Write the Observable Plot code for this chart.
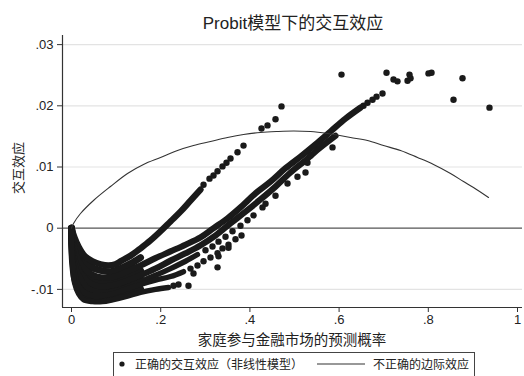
<!DOCTYPE html>
<html>
<head>
<meta charset="utf-8">
<script src="https://cdn.jsdelivr.net/npm/d3@7"></script>
<script src="https://cdn.jsdelivr.net/npm/@observablehq/plot@0.6"></script>
<style>
  html, body { margin: 0; padding: 0; background: #fff; }
  #chart svg { display: block; }
</style>
</head>
<body>
<div id="chart"></div>
<script>
// ---- Data ----
const titleText = "Probit模型下的交互效应";
const xLabel = "家庭参与金融市场的预测概率";
const yLabel = "交互效应";
const legendLabels = ["正确的交互效应（非线性模型）", "不正确的边际效应"];
const xTicks = [0, 0.2, 0.4, 0.6, 0.8, 1];
const yTicks = [-0.01, 0, 0.01, 0.02, 0.03];

// dense groups of the correct interaction effect (many overlapping points)
const bandA = [[0,0],[0.0067,-0.0015],[0.0157,-0.0030],[0.0291,-0.0045],[0.0471,-0.0054],[0.065,-0.0059],[0.083,-0.0061],[0.0987,-0.0059],[0.1099,-0.0054],[0.1323,-0.0045],[0.1547,-0.0033],[0.1771,-0.0020],[0.1996,-0.0005],[0.222,0.0011],[0.2444,0.0027],[0.2668,0.0045],[0.2892,0.0063]];
const bandB = [[0,0],[0.0045,-0.0025],[0.0112,-0.0045],[0.0224,-0.0061],[0.0381,-0.0072],[0.0561,-0.0079],[0.0762,-0.0081],[0.0987,-0.0079],[0.1211,-0.0072],[0.1547,-0.0061],[0.1883,-0.0049],[0.222,-0.0038],[0.2556,-0.0027],[0.2892,-0.0015],[0.3184,0.0000],[0.3498,0.0016],[0.3789,0.0034],[0.4126,0.0057],[0.4462,0.0076],[0.4798,0.0098],[0.5135,0.0117],[0.5471,0.0137],[0.5807,0.0158],[0.6143,0.0179],[0.648,0.0197]];
const bandC = [[0,0],[0.0022,-0.0033],[0.009,-0.0056],[0.0202,-0.0074],[0.0359,-0.0087],[0.0538,-0.0094],[0.0762,-0.0095],[0.0987,-0.0092],[0.1211,-0.0087],[0.1547,-0.0077],[0.1883,-0.0066],[0.222,-0.0053],[0.2556,-0.0041],[0.2892,-0.0028],[0.3229,-0.0012],[0.3565,0.0008],[0.3901,0.0027],[0.4238,0.0047],[0.4574,0.0068],[0.491,0.0091],[0.5247,0.0111],[0.5583,0.0132],[0.5919,0.0151]];
const bandD = [[0,0],[0.0022,-0.0040],[0.009,-0.0064],[0.0202,-0.0082],[0.0359,-0.0097],[0.0538,-0.0103],[0.0762,-0.0105],[0.0987,-0.0102],[0.1211,-0.0097],[0.1547,-0.0087],[0.1883,-0.0077],[0.222,-0.0066],[0.2556,-0.0054],[0.2825,-0.0043]];
const bandE = [[0,0],[0.0022,-0.0048],[0.0067,-0.0072],[0.0157,-0.0094],[0.0291,-0.0105],[0.0471,-0.0110],[0.0695,-0.0110],[0.0919,-0.0107],[0.1211,-0.0100],[0.1547,-0.0092],[0.1883,-0.0085],[0.222,-0.0079],[0.2511,-0.0071]];
const bandF = [[0,0],[0.0022,-0.0059],[0.0067,-0.0089],[0.0157,-0.0107],[0.0269,-0.0117],[0.0471,-0.0120],[0.0695,-0.0120],[0.0919,-0.0117],[0.1211,-0.0112],[0.1547,-0.0105],[0.1883,-0.0100],[0.2175,-0.0097]];
// further groups inside the dark mass at low probabilities
const massM1 = [[0,0],[0.0045,-0.0020],[0.0135,-0.0040],[0.0269,-0.0054],[0.0448,-0.0064],[0.065,-0.0069],[0.0874,-0.0071],[0.1099,-0.0066],[0.1323,-0.0058],[0.1547,-0.0048]];
const massM2 = [[0,0],[0.0022,-0.0030],[0.009,-0.0051],[0.0202,-0.0067],[0.0381,-0.0081],[0.0583,-0.0087],[0.0807,-0.0089],[0.1031,-0.0085],[0.1278,-0.0079],[0.1547,-0.0069]];
const massM3 = [[0,0],[0.0022,-0.0036],[0.009,-0.0061],[0.0202,-0.0079],[0.0359,-0.0092],[0.0561,-0.0099],[0.0785,-0.0100],[0.1009,-0.0097],[0.1278,-0.0090],[0.1547,-0.0082]];
const massM4 = [[0,0],[0.0022,-0.0045],[0.0067,-0.0069],[0.0157,-0.0089],[0.0314,-0.0102],[0.0493,-0.0107],[0.0717,-0.0108],[0.0942,-0.0105],[0.1233,-0.0099],[0.1547,-0.0089]];
const massM5 = [[0,0],[0.0022,-0.0053],[0.0067,-0.0081],[0.0157,-0.0100],[0.0291,-0.0112],[0.0471,-0.0115],[0.0695,-0.0115],[0.0919,-0.0112],[0.1211,-0.0105],[0.1547,-0.0099]];

// sparse points
const dotsA = [[0.296,0.0071],[0.3094,0.0081],[0.3184,0.0086],[0.3274,0.0093],[0.3386,0.0101],[0.3475,0.0107],[0.3565,0.0114],[0.3722,0.0124],[0.3857,0.0135],[0.426,0.0163],[0.4395,0.0168],[0.4574,0.0178],[0.4709,0.0199]];
const dotsD = [[0.3004,-0.0036],[0.3161,-0.0030],[0.3296,-0.0022],[0.3453,-0.0014],[0.361,-0.0005],[0.3789,0.0004],[0.3946,0.0013],[0.4081,0.0021],[0.4283,0.0034],[0.435,0.0040],[0.4574,0.0053],[0.4843,0.0073],[0.5067,0.0084],[0.5247,0.0091],[0.5291,0.0107],[0.5359,0.0119],[0.5852,0.0132]];
const dotsE = [[0.2668,-0.0066],[0.2825,-0.0061],[0.296,-0.0054],[0.3117,-0.0048],[0.3274,-0.0041],[0.3386,-0.0033],[0.352,-0.0027],[0.3677,-0.0018],[0.3812,-0.0012]];
const dotsF = [[0.2287,-0.0094],[0.2399,-0.0092],[0.2623,-0.0094],[0.2735,-0.0074],[0.3274,-0.0064],[0.3296,-0.0046],[0.352,-0.0032]];
const dotsTop = [[0.6054,0.0251],[0.6547,0.0200],[0.6637,0.0205],[0.6749,0.0210],[0.6839,0.0215],[0.6973,0.0220],[0.7063,0.0254],[0.722,0.0243],[0.7309,0.0240],[0.7534,0.0241],[0.7578,0.0251],[0.7601,0.0245],[0.8004,0.0253],[0.8072,0.0254],[0.8565,0.0210],[0.8767,0.0245],[0.9372,0.0197]];

// incorrect marginal effect (smooth curve)
const marginal = [[0,0],[0.0045,0.00077],[0.0202,0.0024],[0.0493,0.00453],[0.0874,0.00681],[0.1256,0.00894],[0.1614,0.01041],[0.1996,0.01155],[0.2377,0.0127],[0.2735,0.01351],[0.3117,0.01417],[0.3498,0.01482],[0.3857,0.01531],[0.4238,0.01564],[0.4619,0.0158],[0.4978,0.01588],[0.5359,0.0158],[0.574,0.01547],[0.6256,0.01482],[0.6637,0.01433],[0.6996,0.01351],[0.7377,0.0127],[0.7758,0.01155],[0.8117,0.01041],[0.8498,0.00894],[0.8789,0.00763],[0.9013,0.00665],[0.935,0.00502]];

// ---- Chart ----
const xDomain = [-0.0202, 1.0112];
const yDomain = [-0.01296, 0.03149];
const ink = "#1a1a1a";
const font = "'Liberation Sans', Arial, 'Noto Sans CJK SC', sans-serif";
const fmt = d => d === 0 ? "0" : (d < 0 ? "-" : "") + String(Math.abs(d)).replace(/^0\./, ".");

const massBands = [massM1, massM2, massM3, massM4, massM5];
const sparse = [].concat(dotsA, dotsD, dotsE, dotsF, dotsTop);
const lineOpts = w => ({ x: d => d[0], y: d => d[1], stroke: ink, strokeWidth: w, curve: "catmull-rom", strokeLinecap: "round", strokeLinejoin: "round" });

const plot = Plot.plot({
  width: 524,
  height: 376,
  marginLeft: 62,
  marginRight: 2,
  marginTop: 35,
  marginBottom: 69,
  style: { fontFamily: font, fontSize: "13px", color: "#222", background: "#fff" },
  x: { domain: xDomain, ticks: xTicks, tickFormat: fmt, label: null },
  y: { domain: yDomain, ticks: yTicks, tickFormat: fmt, label: null },
  marks: [
    Plot.gridY(yTicks.filter(d => d !== 0), { stroke: "#e3e3e3", strokeOpacity: 1, strokeWidth: 1.2 }),
    Plot.ruleY([0], { stroke: "#555", strokeWidth: 1.2 }),
    ...massBands.map(b => Plot.line(b, lineOpts(7))),
    Plot.line(bandA, lineOpts(6.3)),
    Plot.line(bandB, lineOpts(6.2)),
    Plot.line(bandC, lineOpts(6.2)),
    Plot.line(bandD, lineOpts(5.4)),
    Plot.line(bandE, lineOpts(5.4)),
    Plot.line(bandF, lineOpts(5.4)),
    Plot.dot(sparse, { x: d => d[0], y: d => d[1], r: 3.2, fill: ink, stroke: "none" }),
    Plot.line(marginal, { x: d => d[0], y: d => d[1], stroke: "#333", strokeWidth: 1.1, curve: "catmull-rom" }),
    Plot.ruleX([xDomain[0]], { stroke: "#333", strokeWidth: 1.2 }),
    Plot.ruleY([yDomain[0]], { stroke: "#333", strokeWidth: 1.2 }),
    Plot.axisX({ ticks: xTicks, tickFormat: fmt, tickSize: 5, tickPadding: 2, fontSize: 13, stroke: "#333", label: null }),
    Plot.axisY({ ticks: yTicks, tickFormat: fmt, tickSize: 5, tickPadding: 4, fontSize: 13, stroke: "#333", label: null })
  ]
});

document.getElementById("chart").appendChild(plot);

const svg = d3.select(plot);
const cjk = "'Noto Sans CJK SC', 'Liberation Sans', sans-serif";
const latinCjk = "'Liberation Sans', 'Noto Sans CJK SC', sans-serif";

svg.append("text").attr("x", 293).attr("y", 29).attr("text-anchor", "middle")
  .style("font-family", latinCjk).style("font-size", "17px").attr("fill", "#222").text(titleText);

svg.append("text").attr("x", 292).attr("y", 345).attr("text-anchor", "middle")
  .style("font-family", cjk).style("font-size", "14.5px").attr("fill", "#222").text(xLabel);

svg.append("text").attr("transform", "translate(17,168) rotate(-90)").attr("text-anchor", "middle")
  .attr("dominant-baseline", "central")
  .style("font-family", cjk).style("font-size", "13px").attr("fill", "#222").text(yLabel);

// legend
const lg = svg.append("g").attr("text-anchor", "start");
lg.append("rect").attr("x", 113.5).attr("y", 352.5).attr("width", 361).attr("height", 40)
  .attr("fill", "#fff").attr("stroke", "#444").attr("stroke-width", 1);
lg.append("circle").attr("cx", 122).attr("cy", 364).attr("r", 2.6).attr("fill", ink);
lg.append("text").attr("x", 135).attr("y", 368.5).attr("text-anchor", "start")
  .style("font-family", cjk).style("font-size", "12px").attr("fill", "#222").text(legendLabels[0]);
lg.append("line").attr("x1", 317).attr("x2", 365).attr("y1", 364).attr("y2", 364)
  .attr("stroke", "#333").attr("stroke-width", 1.1);
lg.append("text").attr("x", 373).attr("y", 368.5).attr("text-anchor", "start")
  .style("font-family", cjk).style("font-size", "12px").attr("fill", "#222").text(legendLabels[1]);
</script>
</body>
</html>
